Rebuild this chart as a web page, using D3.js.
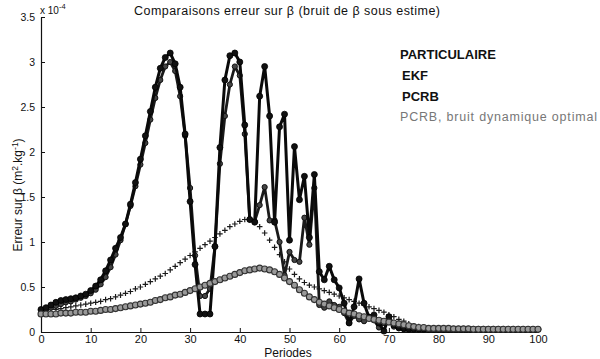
<!DOCTYPE html>
<html><head><meta charset="utf-8">
<script src="https://cdn.jsdelivr.net/npm/d3@7"></script>
<style>
html,body{margin:0;padding:0;background:#fff;}
text{font-family:"Liberation Sans",Arial,sans-serif;}
</style></head>
<body>
<script>
// ---- data (values in units of 1e-4 m^2.kg^-1), one value per period 0..100 ----
const particulaire = [
0.25,0.27,0.30,0.33,0.35,0.36,0.37,0.38,0.40,0.42,
0.46,0.51,0.58,0.68,0.80,0.93,1.05,1.20,1.42,1.66,
1.92,2.18,2.45,2.72,2.93,3.05,3.10,2.98,2.72,2.20,
1.45,0.75,0.20,0.20,0.20,0.95,2.05,2.80,3.07,3.10,
3.00,2.30,1.25,1.22,2.62,2.95,2.40,1.22,2.28,2.42,
1.02,2.06,1.47,1.73,1.05,1.75,0.67,0.58,0.73,0.58,
0.49,0.32,0.10,0.28,0.59,0.32,0.16,0.19,0.10,0.01,
0.17,0.08,0.05,0.04,0.03,0.03,0.03,0.03,0.03,0.03,
0.03,0.03,0.03,0.03,0.03,0.03,0.03,0.03,0.03,0.03,
0.03,0.03,0.03,0.03,0.03,0.03,0.03,0.03,0.03,0.03,0.03];
const ekf = [
0.24,0.25,0.27,0.29,0.31,0.33,0.34,0.36,0.38,0.40,
0.43,0.47,0.53,0.61,0.72,0.86,1.02,1.20,1.40,1.62,
1.86,2.10,2.36,2.60,2.80,2.95,3.00,2.90,2.62,2.18,
1.60,0.85,0.40,0.40,0.48,0.95,1.87,2.40,2.75,2.95,
2.85,2.20,1.25,1.23,1.41,1.61,1.24,1.24,1.00,0.63,
0.89,0.80,0.78,1.27,0.97,1.60,0.30,0.27,0.34,0.30,
0.28,0.21,0.10,0.18,0.14,0.12,0.17,0.13,0.05,0.10,
0.12,0.06,0.04,0.03,0.03,0.03,0.03,0.03,0.03,0.03,
0.03,0.03,0.03,0.03,0.03,0.03,0.03,0.03,0.03,0.03,
0.03,0.03,0.03,0.03,0.03,0.03,0.03,0.03,0.03,0.03,0.03];
const pcrb = [
0.23,0.24,0.25,0.25,0.26,0.27,0.28,0.29,0.30,0.31,
0.32,0.33,0.34,0.36,0.37,0.39,0.41,0.43,0.45,0.48,
0.50,0.53,0.56,0.59,0.62,0.65,0.69,0.73,0.77,0.81,
0.85,0.89,0.93,0.97,1.01,1.05,1.09,1.13,1.17,1.20,
1.23,1.25,1.25,1.22,1.17,1.10,1.02,0.94,0.86,0.78,
0.70,0.64,0.59,0.55,0.52,0.50,0.48,0.46,0.44,0.42,
0.40,0.38,0.36,0.34,0.32,0.30,0.28,0.26,0.24,0.22,
0.19,0.17,0.14,0.12,0.09,0.07,0.06,0.05,0.04,0.035,
0.03,0.03,0.03,0.03,0.025,0.025,0.025,0.025,0.02,0.02,
0.02,0.02,0.02,0.02,0.02,0.02,0.02,0.02,0.02,0.02,0.02];
const pcrbOptimal = [
0.20,0.20,0.20,0.20,0.21,0.21,0.21,0.22,0.22,0.22,
0.23,0.23,0.24,0.25,0.25,0.26,0.27,0.28,0.29,0.30,
0.31,0.32,0.33,0.35,0.36,0.38,0.39,0.41,0.42,0.44,
0.46,0.48,0.50,0.52,0.54,0.56,0.58,0.60,0.62,0.64,
0.66,0.68,0.69,0.70,0.71,0.70,0.69,0.67,0.64,0.60,
0.56,0.52,0.47,0.43,0.39,0.36,0.33,0.31,0.29,0.27,
0.25,0.23,0.21,0.20,0.18,0.17,0.15,0.14,0.13,0.12,
0.11,0.10,0.09,0.08,0.07,0.06,0.05,0.05,0.04,0.04,
0.04,0.04,0.04,0.035,0.035,0.035,0.035,0.03,0.03,0.03,
0.03,0.03,0.03,0.03,0.03,0.03,0.03,0.03,0.03,0.03,0.03];
const xTicks = [0,10,20,30,40,50,60,70,80,90,100];
const yTicks = [0,0.5,1,1.5,2,2.5,3,3.5];
const yTickLabels = ["0","0.5","1","1.5","2","2.5","3","3.5"];
const legendLabels = ["PARTICULAIRE","EKF","PCRB","PCRB, bruit dynamique optimal"];
const titleText = "Comparaisons erreur sur \u03B2  (bruit de \u03B2 sous estime)";

// ---- chart ----
const W = 600, H = 359;
const svg = d3.select("body").append("svg").attr("width", W).attr("height", H);
const x = d3.scaleLinear().domain([0,100]).range([41,538]);
const y = d3.scaleLinear().domain([0,3.5]).range([332,17]);

const line = d3.line().x((d,i)=>x(i)).y(d=>y(d));

// axes
const yAxis = d3.axisLeft(y).tickValues(yTicks).tickFormat((d,i)=>yTickLabels[i])
  .tickSizeInner(-4).tickSizeOuter(0).tickPadding(6);
const xAxis = d3.axisBottom(x).tickValues(xTicks).tickFormat(d=>String(d))
  .tickSizeInner(-4).tickSizeOuter(0).tickPadding(3);
const gy = svg.append("g").attr("transform","translate(41,0)").call(yAxis);
const gx = svg.append("g").attr("transform","translate(0,332)").call(xAxis);
[gy,gx].forEach(g=>{
  g.select(".domain").attr("stroke","#111").attr("stroke-width",1.2);
  g.selectAll(".tick line").attr("stroke","#111").attr("stroke-width",1);
  g.selectAll(".tick text").attr("fill","#111").style("font-family","'Liberation Sans',Arial,sans-serif");
});
gy.selectAll(".tick text").style("font-size","10.5px");
gx.selectAll(".tick text").style("font-size","11px");

// exponent label
const ex = svg.append("text").attr("x",40).attr("y",14).attr("font-size",10).attr("fill","#111");
ex.append("tspan").text("x 10");
ex.append("tspan").attr("dy",-5).attr("font-size",7.5).text("-4");

// title
svg.append("text").attr("x",287).attr("y",15).attr("text-anchor","middle")
  .attr("font-size",12.5).attr("fill","#111")
  .attr("textLength",306).attr("lengthAdjust","spacing").text(titleText);

// axis labels
svg.append("text").attr("x",288).attr("y",357).attr("text-anchor","middle")
  .attr("font-size",12).attr("fill","#111").text("Periodes");
const yl = svg.append("text").attr("transform","translate(22,195) rotate(-90)")
  .attr("text-anchor","middle").attr("font-size",12).attr("fill","#111");
yl.append("tspan").text("Erreur sur \u03B2 (m");
yl.append("tspan").attr("dy",-4).attr("font-size",8.5).text("2");
yl.append("tspan").attr("dy",4).text(".kg");
yl.append("tspan").attr("dy",-4).attr("font-size",8.5).text("-1");
yl.append("tspan").attr("dy",4).text(")");

// PCRB (+)
svg.append("g").selectAll("path").data(pcrb).join("path")
  .attr("transform",(d,i)=>`translate(${x(i)},${y(d)})`)
  .attr("d", d3.symbol().type({draw(ctx,size){const r=2.8;ctx.moveTo(-r,0);ctx.lineTo(r,0);ctx.moveTo(0,-r);ctx.lineTo(0,r);}})())
  .attr("fill","none").attr("stroke","#1a1a1a").attr("stroke-width",1.2);

// EKF
svg.append("path").datum(ekf).attr("d",line).attr("fill","none")
  .attr("stroke","#1a1a1a").attr("stroke-width",2.8).attr("stroke-linejoin","round");
svg.append("g").selectAll("circle").data(ekf).join("circle")
  .attr("cx",(d,i)=>x(i)).attr("cy",d=>y(d)).attr("r",2.6)
  .attr("fill","#444").attr("stroke","#111").attr("stroke-width",1);

// PARTICULAIRE
svg.append("path").datum(particulaire).attr("d",line).attr("fill","none")
  .attr("stroke","#0a0a0a").attr("stroke-width",3).attr("stroke-linejoin","round");
svg.append("g").selectAll("circle").data(particulaire).join("circle")
  .attr("cx",(d,i)=>x(i)).attr("cy",d=>y(d)).attr("r",3)
  .attr("fill","#111").attr("stroke","#000").attr("stroke-width",0.8);

// PCRB optimal (grey circles)
svg.append("path").datum(pcrbOptimal).attr("d",line).attr("fill","none")
  .attr("stroke","#444").attr("stroke-width",1.2);
svg.append("g").selectAll("circle").data(pcrbOptimal).join("circle")
  .attr("cx",(d,i)=>x(i)).attr("cy",d=>y(d)).attr("r",3)
  .attr("fill","#999").attr("stroke","#333").attr("stroke-width",1.1);

// legend (text only)
const leg = [
  {x:400,y:59,w:"bold",c:"#111"},
  {x:402,y:80,w:"bold",c:"#111"},
  {x:402,y:101,w:"bold",c:"#111"},
  {x:400,y:121,w:"normal",c:"#777"}
];
legendLabels.forEach((t,i)=>{
  const s = svg.append("text").attr("x",leg[i].x).attr("y",leg[i].y)
    .attr("font-size",13).attr("font-weight",leg[i].w).attr("fill",leg[i].c).text(t);
  if(i===3) s.attr("font-size",12.5).attr("textLength",197).attr("lengthAdjust","spacing");
});
</script>
</body></html>
